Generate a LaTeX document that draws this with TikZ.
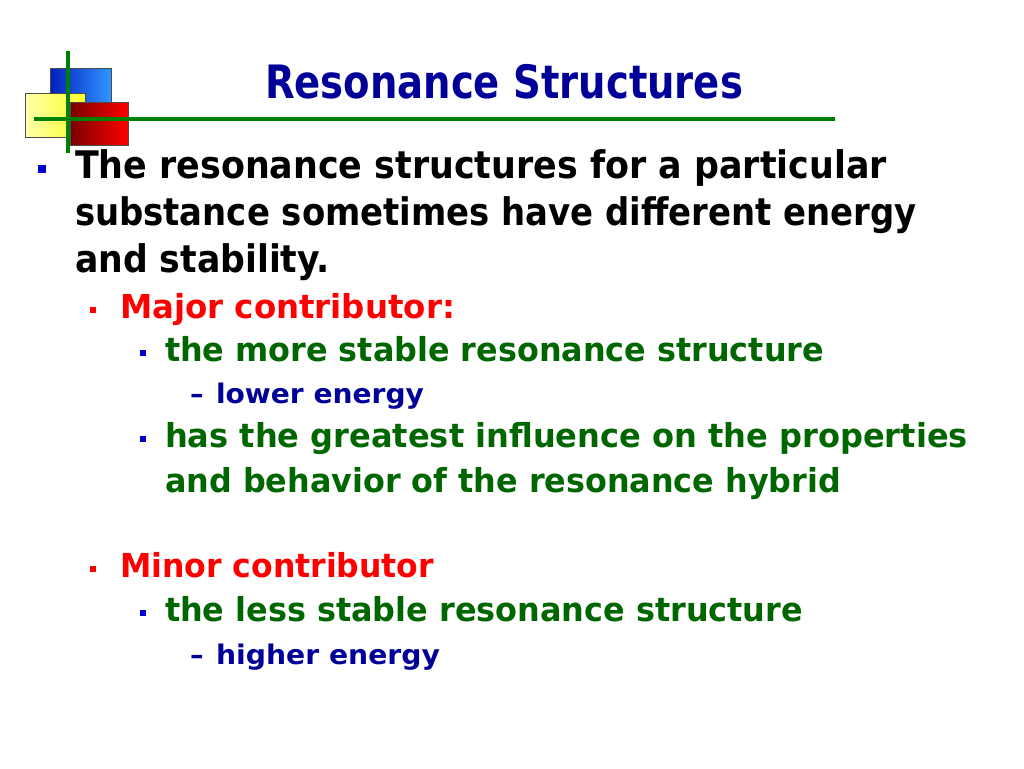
\documentclass[tikz,border=0pt]{standalone}
\usepackage{fontspec}
\setmainfont{DejaVu Sans}
\usepackage{graphicx}
\definecolor{navy}{RGB}{0,0,153}
\definecolor{bulblue}{RGB}{0,0,204}
\definecolor{txtgreen}{RGB}{0,102,0}
\definecolor{linegreen}{RGB}{0,128,0}
\definecolor{txtred}{RGB}{255,0,0}
\newcommand\fitw[2]{\resizebox{#1pt}{\height}{#2}}
\newcommand\szA{\fontsize{46}{50}\selectfont}
\newcommand\szB{\fontsize{38}{42}\selectfont}
\newcommand\szC{\fontsize{33}{36}\selectfont}
\newcommand\szD{\fontsize{27}{30}\selectfont}
\tikzset{
  txt/.style={anchor=base west, inner sep=0pt, outer sep=0pt, font=\bfseries},
  sqbul/.style={rectangle, inner sep=0pt, minimum width=#1, minimum height=#1},
  logobox/.style={draw=black!70, line width=0.6pt},
  gline/.style={draw=linegreen, line width=4pt}
}
\begin{document}
\begin{tikzpicture}[x=1pt,y=-1pt]
\useasboundingbox[fill=white] (0,0) rectangle (1024,768);
% logo
\shade[logobox, left color={rgb,255:red,0;green,30;blue,190}, right color={rgb,255:red,50;green,150;blue,255}] (50,68) rectangle (111,103);
\shade[logobox, left color={rgb,255:red,255;green,255;blue,170}, right color={rgb,255:red,255;green,255;blue,40}] (25,93) rectangle (85,137);
\shade[logobox, left color={rgb,255:red,120;green,0;blue,0}, right color={rgb,255:red,255;green,0;blue,0}] (70,102) rectangle (128,145);
\coordinate (hl) at (34,119);
\coordinate (hr) at (835,119);
\coordinate (vt) at (68,51);
\coordinate (vb) at (68,153);
\draw[gline] (hl) -- (hr);
\draw[gline] (vt) -- (vb);
% title
\node[txt, text=navy] (title) at (265,98) {\fitw{478}{\szA Resonance Structures}};
% level 1
\node[sqbul=8pt, fill=bulblue] (b1) at (42,169) {};
\node[txt] (l1a) at (75,178) {\fitw{812}{\szB The resonance structures for a particular}};
\node[txt] (l1b) at (75,225) {\fitw{842}{\szB substance sometimes have different energy}};
\node[txt] (l1c) at (75,272) {\fitw{255}{\szB and stability.}};
% major
\node[sqbul=6pt, fill=txtred] (b2) at (93,310) {};
\node[txt, text=txtred] (maj) at (120,318) {\fitw{335}{\szC Major contributor:}};
\node[sqbul=6pt, fill=bulblue] (b3) at (143,353) {};
\node[txt, text=txtgreen] (m1) at (165,361) {\fitw{659}{\szC the more stable resonance structure}};
\node[txt, text=navy] (d1) at (190,403) {\szD –};
\node[txt, text=navy] (m1a) at (216,403) {\fitw{208}{\szD lower energy}};
\node[sqbul=6pt, fill=bulblue] (b4) at (143,439) {};
\node[txt, text=txtgreen] (m2a) at (165,447) {\fitw{803}{\szC has the greatest influence on the properties}};
\node[txt, text=txtgreen] (m2b) at (165,492) {\fitw{676}{\szC and behavior of the resonance hybrid}};
% minor
\node[sqbul=6pt, fill=txtred] (b5) at (93,569) {};
\node[txt, text=txtred] (mnr) at (120,577) {\fitw{314}{\szC Minor contributor}};
\node[sqbul=6pt, fill=bulblue] (b6) at (143,613) {};
\node[txt, text=txtgreen] (n1) at (165,621) {\fitw{638}{\szC the less stable resonance structure}};
\node[txt, text=navy] (d2) at (190,664) {\szD –};
\node[txt, text=navy] (n1a) at (216,664) {\fitw{224}{\szD higher energy}};
\end{tikzpicture}
\end{document}
